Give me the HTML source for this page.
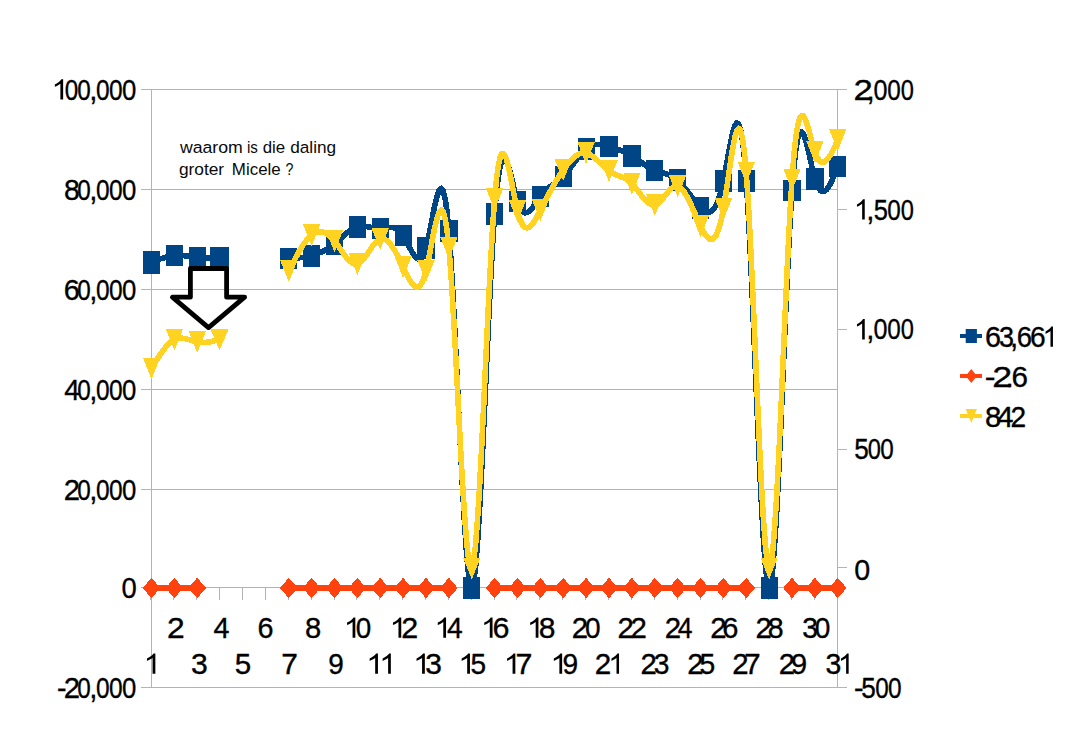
<!DOCTYPE html>
<html><head><meta charset="utf-8"><title>chart</title>
<style>
html,body{margin:0;padding:0;background:#fff;}
svg{display:block;font-family:"Liberation Sans",sans-serif;}
.note{font-size:17.2px;fill:#0a0a0a;}
</style></head><body>
<svg width="1078" height="756" viewBox="0 0 1078 756">
<rect width="1078" height="756" fill="#fff"/>
<g stroke="#b3b3b3" stroke-width="1" fill="none" shape-rendering="crispEdges">
<line x1="141" y1="89.5" x2="838" y2="89.5"/>
<line x1="141" y1="189.5" x2="838" y2="189.5"/>
<line x1="141" y1="289.5" x2="838" y2="289.5"/>
<line x1="141" y1="389.5" x2="838" y2="389.5"/>
<line x1="141" y1="489.5" x2="838" y2="489.5"/>
<line x1="141" y1="587.5" x2="838" y2="587.5"/>
<line x1="141" y1="687.5" x2="838" y2="687.5"/>
<line x1="151.5" y1="89" x2="151.5" y2="688"/>
<line x1="837.5" y1="89" x2="837.5" y2="688"/>
<line x1="837" y1="89.5" x2="847" y2="89.5"/>
<line x1="837" y1="209.5" x2="847" y2="209.5"/>
<line x1="837" y1="329.5" x2="847" y2="329.5"/>
<line x1="837" y1="449.5" x2="847" y2="449.5"/>
<line x1="837" y1="567.5" x2="847" y2="567.5"/>
<line x1="837" y1="687.5" x2="847" y2="687.5"/>
<line x1="150.5" y1="588" x2="150.5" y2="600"/>
<line x1="173.5" y1="588" x2="173.5" y2="600"/>
<line x1="196.5" y1="588" x2="196.5" y2="600"/>
<line x1="219.5" y1="588" x2="219.5" y2="600"/>
<line x1="242.5" y1="588" x2="242.5" y2="600"/>
<line x1="265.5" y1="588" x2="265.5" y2="600"/>
<line x1="288.5" y1="588" x2="288.5" y2="600"/>
<line x1="311.5" y1="588" x2="311.5" y2="600"/>
<line x1="334.5" y1="588" x2="334.5" y2="600"/>
<line x1="356.5" y1="588" x2="356.5" y2="600"/>
<line x1="379.5" y1="588" x2="379.5" y2="600"/>
<line x1="402.5" y1="588" x2="402.5" y2="600"/>
<line x1="425.5" y1="588" x2="425.5" y2="600"/>
<line x1="448.5" y1="588" x2="448.5" y2="600"/>
<line x1="471.5" y1="588" x2="471.5" y2="600"/>
<line x1="494.5" y1="588" x2="494.5" y2="600"/>
<line x1="516.5" y1="588" x2="516.5" y2="600"/>
<line x1="539.5" y1="588" x2="539.5" y2="600"/>
<line x1="562.5" y1="588" x2="562.5" y2="600"/>
<line x1="585.5" y1="588" x2="585.5" y2="600"/>
<line x1="608.5" y1="588" x2="608.5" y2="600"/>
<line x1="631.5" y1="588" x2="631.5" y2="600"/>
<line x1="654.5" y1="588" x2="654.5" y2="600"/>
<line x1="677.5" y1="588" x2="677.5" y2="600"/>
<line x1="700.5" y1="588" x2="700.5" y2="600"/>
<line x1="722.5" y1="588" x2="722.5" y2="600"/>
<line x1="745.5" y1="588" x2="745.5" y2="600"/>
<line x1="768.5" y1="588" x2="768.5" y2="600"/>
<line x1="791.5" y1="588" x2="791.5" y2="600"/>
<line x1="814.5" y1="588" x2="814.5" y2="600"/>
<line x1="837.5" y1="588" x2="837.5" y2="600"/>
</g>
<path transform="translate(51.42,99.6) scale(0.01537,0.01378)" d="M763,0 L583,0 L583,-1147 Q518,-1085 412.5,-1023 Q307,-961 223,-930 L223,-1104 Q374,-1175 487,-1276 Q600,-1377 647,-1472 L763,-1472 Z" fill="#000"/>
<text transform="translate(64.70,99.6) scale(0.823,1)" font-size="29.5" fill="#000" stroke="#000" stroke-width="0.35">0</text>
<text transform="translate(77.30,99.6) scale(0.823,1)" font-size="29.5" fill="#000" stroke="#000" stroke-width="0.35">0</text>
<text transform="translate(89.25,99.6) scale(1.000,1)" font-size="29.5" fill="#000" stroke="#000" stroke-width="0.35">,</text>
<text transform="translate(95.99,99.6) scale(0.830,1)" font-size="29.5" fill="#000" stroke="#000" stroke-width="0.35">0</text>
<text transform="translate(108.99,99.6) scale(0.830,1)" font-size="29.5" fill="#000" stroke="#000" stroke-width="0.35">0</text>
<text transform="translate(121.94,99.6) scale(0.872,1)" font-size="29.5" fill="#000" stroke="#000" stroke-width="0.35">0</text>
<text transform="translate(64.02,199.6) scale(0.961,1)" font-size="29.5" fill="#000" stroke="#000" stroke-width="0.35">8</text>
<text transform="translate(77.30,199.6) scale(0.823,1)" font-size="29.5" fill="#000" stroke="#000" stroke-width="0.35">0</text>
<text transform="translate(89.25,199.6) scale(1.000,1)" font-size="29.5" fill="#000" stroke="#000" stroke-width="0.35">,</text>
<text transform="translate(95.99,199.6) scale(0.830,1)" font-size="29.5" fill="#000" stroke="#000" stroke-width="0.35">0</text>
<text transform="translate(108.99,199.6) scale(0.830,1)" font-size="29.5" fill="#000" stroke="#000" stroke-width="0.35">0</text>
<text transform="translate(121.94,199.6) scale(0.872,1)" font-size="29.5" fill="#000" stroke="#000" stroke-width="0.35">0</text>
<text transform="translate(63.79,299.6) scale(0.977,1)" font-size="29.5" fill="#000" stroke="#000" stroke-width="0.35">6</text>
<text transform="translate(77.30,299.6) scale(0.823,1)" font-size="29.5" fill="#000" stroke="#000" stroke-width="0.35">0</text>
<text transform="translate(89.25,299.6) scale(1.000,1)" font-size="29.5" fill="#000" stroke="#000" stroke-width="0.35">,</text>
<text transform="translate(95.99,299.6) scale(0.830,1)" font-size="29.5" fill="#000" stroke="#000" stroke-width="0.35">0</text>
<text transform="translate(108.99,299.6) scale(0.830,1)" font-size="29.5" fill="#000" stroke="#000" stroke-width="0.35">0</text>
<text transform="translate(121.94,299.6) scale(0.872,1)" font-size="29.5" fill="#000" stroke="#000" stroke-width="0.35">0</text>
<text transform="translate(64.21,399.6) scale(0.949,1)" font-size="29.5" fill="#000" stroke="#000" stroke-width="0.35">4</text>
<text transform="translate(77.30,399.6) scale(0.823,1)" font-size="29.5" fill="#000" stroke="#000" stroke-width="0.35">0</text>
<text transform="translate(89.25,399.6) scale(1.000,1)" font-size="29.5" fill="#000" stroke="#000" stroke-width="0.35">,</text>
<text transform="translate(95.99,399.6) scale(0.830,1)" font-size="29.5" fill="#000" stroke="#000" stroke-width="0.35">0</text>
<text transform="translate(108.99,399.6) scale(0.830,1)" font-size="29.5" fill="#000" stroke="#000" stroke-width="0.35">0</text>
<text transform="translate(121.94,399.6) scale(0.872,1)" font-size="29.5" fill="#000" stroke="#000" stroke-width="0.35">0</text>
<text transform="translate(63.78,499.5) scale(0.990,1)" font-size="29.5" fill="#000" stroke="#000" stroke-width="0.35">2</text>
<text transform="translate(77.30,499.5) scale(0.823,1)" font-size="29.5" fill="#000" stroke="#000" stroke-width="0.35">0</text>
<text transform="translate(89.25,499.5) scale(1.000,1)" font-size="29.5" fill="#000" stroke="#000" stroke-width="0.35">,</text>
<text transform="translate(95.99,499.5) scale(0.830,1)" font-size="29.5" fill="#000" stroke="#000" stroke-width="0.35">0</text>
<text transform="translate(108.99,499.5) scale(0.830,1)" font-size="29.5" fill="#000" stroke="#000" stroke-width="0.35">0</text>
<text transform="translate(121.94,499.5) scale(0.872,1)" font-size="29.5" fill="#000" stroke="#000" stroke-width="0.35">0</text>
<text transform="translate(121.48,597.7) scale(0.929,1)" font-size="29.5" fill="#000" stroke="#000" stroke-width="0.35">0</text>
<text transform="translate(56.88,697.6) scale(0.972,1)" font-size="29.5" fill="#000" stroke="#000" stroke-width="0.35">-</text>
<text transform="translate(63.78,697.6) scale(0.990,1)" font-size="29.5" fill="#000" stroke="#000" stroke-width="0.35">2</text>
<text transform="translate(77.30,697.6) scale(0.823,1)" font-size="29.5" fill="#000" stroke="#000" stroke-width="0.35">0</text>
<text transform="translate(89.25,697.6) scale(1.000,1)" font-size="29.5" fill="#000" stroke="#000" stroke-width="0.35">,</text>
<text transform="translate(95.99,697.6) scale(0.830,1)" font-size="29.5" fill="#000" stroke="#000" stroke-width="0.35">0</text>
<text transform="translate(108.99,697.6) scale(0.830,1)" font-size="29.5" fill="#000" stroke="#000" stroke-width="0.35">0</text>
<text transform="translate(121.94,697.6) scale(0.872,1)" font-size="29.5" fill="#000" stroke="#000" stroke-width="0.35">0</text>
<text transform="translate(853.51,99.6) scale(1.176,1)" font-size="29.5" fill="#000" stroke="#000" stroke-width="0.35">2</text>
<text transform="translate(866.55,99.6) scale(1.000,1)" font-size="29.5" fill="#000" stroke="#000" stroke-width="0.35">,</text>
<text transform="translate(873.47,99.6) scale(0.851,1)" font-size="29.5" fill="#000" stroke="#000" stroke-width="0.35">0</text>
<text transform="translate(887.30,99.6) scale(0.823,1)" font-size="29.5" fill="#000" stroke="#000" stroke-width="0.35">0</text>
<text transform="translate(900.63,99.6) scale(0.801,1)" font-size="29.5" fill="#000" stroke="#000" stroke-width="0.35">0</text>
<path transform="translate(853.73,219.6) scale(0.01444,0.01378)" d="M763,0 L583,0 L583,-1147 Q518,-1085 412.5,-1023 Q307,-961 223,-930 L223,-1104 Q374,-1175 487,-1276 Q600,-1377 647,-1472 L763,-1472 Z" fill="#000"/>
<text transform="translate(866.35,219.6) scale(1.000,1)" font-size="29.5" fill="#000" stroke="#000" stroke-width="0.35">,</text>
<text transform="translate(873.83,219.6) scale(0.865,1)" font-size="29.5" fill="#000" stroke="#000" stroke-width="0.35">5</text>
<text transform="translate(887.30,219.6) scale(0.823,1)" font-size="29.5" fill="#000" stroke="#000" stroke-width="0.35">0</text>
<text transform="translate(900.63,219.6) scale(0.801,1)" font-size="29.5" fill="#000" stroke="#000" stroke-width="0.35">0</text>
<path transform="translate(853.73,339.4) scale(0.01444,0.01378)" d="M763,0 L583,0 L583,-1147 Q518,-1085 412.5,-1023 Q307,-961 223,-930 L223,-1104 Q374,-1175 487,-1276 Q600,-1377 647,-1472 L763,-1472 Z" fill="#000"/>
<text transform="translate(866.35,339.4) scale(1.000,1)" font-size="29.5" fill="#000" stroke="#000" stroke-width="0.35">,</text>
<text transform="translate(873.47,339.4) scale(0.851,1)" font-size="29.5" fill="#000" stroke="#000" stroke-width="0.35">0</text>
<text transform="translate(887.30,339.4) scale(0.823,1)" font-size="29.5" fill="#000" stroke="#000" stroke-width="0.35">0</text>
<text transform="translate(900.63,339.4) scale(0.801,1)" font-size="29.5" fill="#000" stroke="#000" stroke-width="0.35">0</text>
<text transform="translate(854.20,459.4) scale(0.887,1)" font-size="29.5" fill="#000" stroke="#000" stroke-width="0.35">5</text>
<text transform="translate(867.73,459.4) scale(0.801,1)" font-size="29.5" fill="#000" stroke="#000" stroke-width="0.35">0</text>
<text transform="translate(880.20,459.4) scale(0.823,1)" font-size="29.5" fill="#000" stroke="#000" stroke-width="0.35">0</text>
<text transform="translate(854.13,579.7) scale(0.972,1)" font-size="29.5" fill="#000" stroke="#000" stroke-width="0.35">0</text>
<text transform="translate(853.98,697.6) scale(0.972,1)" font-size="29.5" fill="#000" stroke="#000" stroke-width="0.35">-</text>
<text transform="translate(861.30,697.6) scale(0.887,1)" font-size="29.5" fill="#000" stroke="#000" stroke-width="0.35">5</text>
<text transform="translate(875.20,697.6) scale(0.823,1)" font-size="29.5" fill="#000" stroke="#000" stroke-width="0.35">0</text>
<text transform="translate(888.09,697.6) scale(0.830,1)" font-size="29.5" fill="#000" stroke="#000" stroke-width="0.35">0</text>
<path transform="translate(143.48,673.7) scale(0.01556,0.01378)" d="M763,0 L583,0 L583,-1147 Q518,-1085 412.5,-1023 Q307,-961 223,-930 L223,-1104 Q374,-1175 487,-1276 Q600,-1377 647,-1472 L763,-1472 Z" fill="#000"/>
<text transform="translate(167.05,637.8) scale(1.079,1)" font-size="29.5" fill="#000" stroke="#000" stroke-width="0.35">2</text>
<text transform="translate(190.90,673.7) scale(1.022,1)" font-size="29.5" fill="#000" stroke="#000" stroke-width="0.35">3</text>
<text transform="translate(213.59,637.8) scale(0.975,1)" font-size="29.5" fill="#000" stroke="#000" stroke-width="0.35">4</text>
<text transform="translate(234.77,673.7) scale(1.001,1)" font-size="29.5" fill="#000" stroke="#000" stroke-width="0.35">5</text>
<text transform="translate(257.49,637.8) scale(0.977,1)" font-size="29.5" fill="#000" stroke="#000" stroke-width="0.35">6</text>
<text transform="translate(281.32,673.7) scale(1.014,1)" font-size="29.5" fill="#000" stroke="#000" stroke-width="0.35">7</text>
<text transform="translate(304.88,637.8) scale(0.990,1)" font-size="29.5" fill="#000" stroke="#000" stroke-width="0.35">8</text>
<text transform="translate(328.24,673.7) scale(0.947,1)" font-size="29.5" fill="#000" stroke="#000" stroke-width="0.35">9</text>
<path transform="translate(343.62,637.8) scale(0.01537,0.01378)" d="M763,0 L583,0 L583,-1147 Q518,-1085 412.5,-1023 Q307,-961 223,-930 L223,-1104 Q374,-1175 487,-1276 Q600,-1377 647,-1472 L763,-1472 Z" fill="#000"/>
<text transform="translate(355.86,637.8) scale(0.943,1)" font-size="29.5" fill="#000" stroke="#000" stroke-width="0.35">0</text>
<path transform="translate(366.22,673.7) scale(0.01537,0.01378)" d="M763,0 L583,0 L583,-1147 Q518,-1085 412.5,-1023 Q307,-961 223,-930 L223,-1104 Q374,-1175 487,-1276 Q600,-1377 647,-1472 L763,-1472 Z" fill="#000"/>
<path transform="translate(379.26,673.7) scale(0.01519,0.01378)" d="M763,0 L583,0 L583,-1147 Q518,-1085 412.5,-1023 Q307,-961 223,-930 L223,-1104 Q374,-1175 487,-1276 Q600,-1377 647,-1472 L763,-1472 Z" fill="#000"/>
<path transform="translate(389.52,637.8) scale(0.01537,0.01378)" d="M763,0 L583,0 L583,-1147 Q518,-1085 412.5,-1023 Q307,-961 223,-930 L223,-1104 Q374,-1175 487,-1276 Q600,-1377 647,-1472 L763,-1472 Z" fill="#000"/>
<text transform="translate(401.32,637.8) scale(1.034,1)" font-size="29.5" fill="#000" stroke="#000" stroke-width="0.35">2</text>
<path transform="translate(413.12,673.7) scale(0.01537,0.01378)" d="M763,0 L583,0 L583,-1147 Q518,-1085 412.5,-1023 Q307,-961 223,-930 L223,-1104 Q374,-1175 487,-1276 Q600,-1377 647,-1472 L763,-1472 Z" fill="#000"/>
<text transform="translate(425.31,673.7) scale(1.015,1)" font-size="29.5" fill="#000" stroke="#000" stroke-width="0.35">3</text>
<path transform="translate(434.32,637.8) scale(0.01537,0.01378)" d="M763,0 L583,0 L583,-1147 Q518,-1085 412.5,-1023 Q307,-961 223,-930 L223,-1104 Q374,-1175 487,-1276 Q600,-1377 647,-1472 L763,-1472 Z" fill="#000"/>
<text transform="translate(447.00,637.8) scale(0.955,1)" font-size="29.5" fill="#000" stroke="#000" stroke-width="0.35">4</text>
<path transform="translate(458.22,673.7) scale(0.01537,0.01378)" d="M763,0 L583,0 L583,-1147 Q518,-1085 412.5,-1023 Q307,-961 223,-930 L223,-1104 Q374,-1175 487,-1276 Q600,-1377 647,-1472 L763,-1472 Z" fill="#000"/>
<text transform="translate(470.43,673.7) scale(0.951,1)" font-size="29.5" fill="#000" stroke="#000" stroke-width="0.35">5</text>
<path transform="translate(480.82,637.8) scale(0.01537,0.01378)" d="M763,0 L583,0 L583,-1147 Q518,-1085 412.5,-1023 Q307,-961 223,-930 L223,-1104 Q374,-1175 487,-1276 Q600,-1377 647,-1472 L763,-1472 Z" fill="#000"/>
<text transform="translate(492.60,637.8) scale(1.036,1)" font-size="29.5" fill="#000" stroke="#000" stroke-width="0.35">6</text>
<path transform="translate(503.62,673.7) scale(0.01537,0.01378)" d="M763,0 L583,0 L583,-1147 Q518,-1085 412.5,-1023 Q307,-961 223,-930 L223,-1104 Q374,-1175 487,-1276 Q600,-1377 647,-1472 L763,-1472 Z" fill="#000"/>
<text transform="translate(515.39,673.7) scale(1.029,1)" font-size="29.5" fill="#000" stroke="#000" stroke-width="0.35">7</text>
<path transform="translate(526.72,637.8) scale(0.01537,0.01378)" d="M763,0 L583,0 L583,-1147 Q518,-1085 412.5,-1023 Q307,-961 223,-930 L223,-1104 Q374,-1175 487,-1276 Q600,-1377 647,-1472 L763,-1472 Z" fill="#000"/>
<text transform="translate(538.74,637.8) scale(1.019,1)" font-size="29.5" fill="#000" stroke="#000" stroke-width="0.35">8</text>
<path transform="translate(550.42,673.7) scale(0.01537,0.01378)" d="M763,0 L583,0 L583,-1147 Q518,-1085 412.5,-1023 Q307,-961 223,-930 L223,-1104 Q374,-1175 487,-1276 Q600,-1377 647,-1472 L763,-1472 Z" fill="#000"/>
<text transform="translate(562.43,673.7) scale(0.954,1)" font-size="29.5" fill="#000" stroke="#000" stroke-width="0.35">9</text>
<text transform="translate(571.77,637.8) scale(0.997,1)" font-size="29.5" fill="#000" stroke="#000" stroke-width="0.35">2</text>
<text transform="translate(584.96,637.8) scale(0.950,1)" font-size="29.5" fill="#000" stroke="#000" stroke-width="0.35">0</text>
<text transform="translate(594.66,673.7) scale(1.005,1)" font-size="29.5" fill="#000" stroke="#000" stroke-width="0.35">2</text>
<path transform="translate(608.31,673.7) scale(0.01407,0.01378)" d="M763,0 L583,0 L583,-1147 Q518,-1085 412.5,-1023 Q307,-961 223,-930 L223,-1104 Q374,-1175 487,-1276 Q600,-1377 647,-1472 L763,-1472 Z" fill="#000"/>
<text transform="translate(617.57,637.8) scale(0.997,1)" font-size="29.5" fill="#000" stroke="#000" stroke-width="0.35">2</text>
<text transform="translate(630.47,637.8) scale(0.997,1)" font-size="29.5" fill="#000" stroke="#000" stroke-width="0.35">2</text>
<text transform="translate(640.57,673.7) scale(0.997,1)" font-size="29.5" fill="#000" stroke="#000" stroke-width="0.35">2</text>
<text transform="translate(653.77,673.7) scale(0.958,1)" font-size="29.5" fill="#000" stroke="#000" stroke-width="0.35">3</text>
<text transform="translate(664.77,637.8) scale(0.997,1)" font-size="29.5" fill="#000" stroke="#000" stroke-width="0.35">2</text>
<text transform="translate(677.64,637.8) scale(0.901,1)" font-size="29.5" fill="#000" stroke="#000" stroke-width="0.35">4</text>
<text transform="translate(687.27,673.7) scale(0.997,1)" font-size="29.5" fill="#000" stroke="#000" stroke-width="0.35">2</text>
<text transform="translate(699.62,673.7) scale(0.958,1)" font-size="29.5" fill="#000" stroke="#000" stroke-width="0.35">5</text>
<text transform="translate(710.37,637.8) scale(0.997,1)" font-size="29.5" fill="#000" stroke="#000" stroke-width="0.35">2</text>
<text transform="translate(722.18,637.8) scale(0.984,1)" font-size="29.5" fill="#000" stroke="#000" stroke-width="0.35">6</text>
<text transform="translate(732.17,673.7) scale(0.997,1)" font-size="29.5" fill="#000" stroke="#000" stroke-width="0.35">2</text>
<text transform="translate(744.14,673.7) scale(0.999,1)" font-size="29.5" fill="#000" stroke="#000" stroke-width="0.35">7</text>
<text transform="translate(755.57,637.8) scale(0.997,1)" font-size="29.5" fill="#000" stroke="#000" stroke-width="0.35">2</text>
<text transform="translate(767.71,637.8) scale(0.968,1)" font-size="29.5" fill="#000" stroke="#000" stroke-width="0.35">8</text>
<text transform="translate(778.87,673.7) scale(0.997,1)" font-size="29.5" fill="#000" stroke="#000" stroke-width="0.35">2</text>
<text transform="translate(790.99,673.7) scale(0.983,1)" font-size="29.5" fill="#000" stroke="#000" stroke-width="0.35">9</text>
<text transform="translate(802.37,637.8) scale(0.958,1)" font-size="29.5" fill="#000" stroke="#000" stroke-width="0.35">3</text>
<text transform="translate(814.66,637.8) scale(0.950,1)" font-size="29.5" fill="#000" stroke="#000" stroke-width="0.35">0</text>
<text transform="translate(825.57,673.7) scale(0.965,1)" font-size="29.5" fill="#000" stroke="#000" stroke-width="0.35">3</text>
<path transform="translate(837.91,673.7) scale(0.01407,0.01378)" d="M763,0 L583,0 L583,-1147 Q518,-1085 412.5,-1023 Q307,-961 223,-930 L223,-1104 Q374,-1175 487,-1276 Q600,-1377 647,-1472 L763,-1472 Z" fill="#000"/>
<text class="note" transform="translate(179.90,152.5) scale(1.028,1)">waarom</text>
<text class="note" transform="translate(246.92,152.5) scale(0.882,1)">is</text>
<text class="note" transform="translate(262.72,152.5) scale(0.981,1)">die</text>
<text class="note" transform="translate(290.20,152.5) scale(1.000,1)">daling</text>
<text class="note" transform="translate(178.89,175.4) scale(1.007,1)">groter</text>
<text class="note" transform="translate(231.81,175.4) scale(0.985,1)">Micele</text>
<text class="note" transform="translate(285.38,175.4) scale(0.825,1)">?</text>
<g shape-rendering="crispEdges">
<path d="M151.5,262.5 L153.4,261.7 L155.3,260.9 L157.2,260.2 L159.1,259.4 L161.0,258.7 L162.9,258.1 L164.8,257.5 L166.8,256.9 L168.7,256.4 L170.6,256.0 L172.5,255.7 L174.4,255.5 L176.3,255.4 L178.2,255.4 L180.1,255.4 L182.0,255.5 L183.9,255.7 L185.8,255.9 L187.7,256.2 L189.6,256.4 L191.5,256.7 L193.4,257.0 L195.3,257.2 L197.2,257.4 L199.2,257.6 L201.1,257.7 L203.0,257.8 L204.9,257.8 L206.8,257.8 L208.7,257.8 L210.6,257.8 L212.5,257.7 L214.4,257.7 L216.3,257.6 L218.2,257.5 L220.1,257.4" fill="none" stroke="#004586" stroke-width="5.6" stroke-linejoin="round" stroke-linecap="butt"/>
<path d="M288.8,258.4 L290.7,258.3 L292.6,258.2 L294.5,258.1 L296.4,258.0 L298.3,257.9 L300.2,257.7 L302.1,257.5 L304.0,257.2 L305.9,256.9 L307.8,256.6 L309.7,256.2 L311.6,255.7 L313.5,255.2 L315.4,254.5 L317.3,253.8 L319.2,253.0 L321.2,252.2 L323.1,251.2 L325.0,250.2 L326.9,249.1 L328.8,247.9 L330.7,246.6 L332.6,245.2 L334.5,243.7 L336.4,242.1 L338.3,240.5 L340.2,238.8 L342.1,237.1 L344.0,235.4 L345.9,233.8 L347.8,232.2 L349.8,230.8 L351.7,229.5 L353.6,228.4 L355.5,227.5 L357.4,226.8 L359.3,226.4 L361.2,226.2 L363.1,226.2 L365.0,226.4 L366.9,226.6 L368.8,227.0 L370.7,227.4 L372.6,227.8 L374.5,228.1 L376.4,228.4 L378.3,228.6 L380.2,228.6 L382.2,228.5 L384.1,228.2 L386.0,227.9 L387.9,227.6 L389.8,227.5 L391.7,227.5 L393.6,227.7 L395.5,228.3 L397.4,229.3 L399.3,230.7 L401.2,232.7 L403.1,235.3 L405.0,238.5 L406.9,242.2 L408.8,246.0 L410.8,249.8 L412.7,253.3 L414.6,256.2 L416.5,258.3 L418.4,259.3 L420.3,259.1 L422.2,257.3 L424.1,253.7 L426.0,248.0 L427.9,240.2 L429.8,230.9 L431.7,221.0 L433.6,211.1 L435.5,202.1 L437.4,194.8 L439.3,190.0 L441.2,188.4 L443.2,191.0 L445.1,198.4 L447.0,211.4 L448.9,231.0 L450.8,257.4 L452.7,289.6 L454.6,325.9 L456.5,364.9 L458.4,405.0 L460.3,444.7 L462.2,482.5 L464.1,516.7 L466.0,545.9 L467.9,568.6 L469.8,583.1 L471.8,588.0 L473.7,582.2 L475.6,566.8 L477.5,543.2 L479.4,512.9 L481.3,477.6 L483.2,438.6 L485.1,397.6 L487.0,356.0 L488.9,315.3 L490.8,277.0 L492.7,242.8 L494.6,214.0 L496.5,191.8 L498.4,176.0 L500.3,165.6 L502.2,160.1 L504.2,158.6 L506.1,160.5 L508.0,165.1 L509.9,171.5 L511.8,179.0 L513.7,187.0 L515.6,194.7 L517.5,201.4 L519.4,206.5 L521.3,209.9 L523.2,212.0 L525.1,212.8 L527.0,212.6 L528.9,211.5 L530.8,209.7 L532.8,207.4 L534.7,204.7 L536.6,201.8 L538.5,199.0 L540.4,196.3 L542.3,193.9 L544.2,191.9 L546.1,190.0 L548.0,188.4 L549.9,186.9 L551.8,185.6 L553.7,184.3 L555.6,182.9 L557.5,181.6 L559.4,180.1 L561.3,178.4 L563.2,176.6 L565.2,174.5 L567.1,172.2 L569.0,169.8 L570.9,167.3 L572.8,164.6 L574.7,162.0 L576.6,159.4 L578.5,156.9 L580.4,154.6 L582.3,152.4 L584.2,150.4 L586.1,148.7 L588.0,147.3 L589.9,146.2 L591.8,145.4 L593.8,144.9 L595.7,144.6 L597.6,144.4 L599.5,144.5 L601.4,144.7 L603.3,145.0 L605.2,145.4 L607.1,145.9 L609.0,146.4 L610.9,147.0 L612.8,147.6 L614.7,148.2 L616.6,148.8 L618.5,149.5 L620.4,150.3 L622.3,151.1 L624.2,151.9 L626.2,152.9 L628.1,153.8 L630.0,154.9 L631.9,156.0 L633.8,157.2 L635.7,158.4 L637.6,159.7 L639.5,161.1 L641.4,162.4 L643.3,163.7 L645.2,165.0 L647.1,166.2 L649.0,167.4 L650.9,168.5 L652.8,169.4 L654.8,170.3 L656.7,171.0 L658.6,171.7 L660.5,172.2 L662.4,172.7 L664.3,173.3 L666.2,173.8 L668.1,174.5 L670.0,175.2 L671.9,176.1 L673.8,177.2 L675.7,178.5 L677.6,180.0 L679.5,181.8 L681.4,183.8 L683.3,186.1 L685.2,188.5 L687.2,191.0 L689.1,193.5 L691.0,196.1 L692.9,198.7 L694.8,201.2 L696.7,203.6 L698.6,205.8 L700.5,207.8 L702.4,209.6 L704.3,211.0 L706.2,211.9 L708.1,212.3 L710.0,212.0 L711.9,210.8 L713.8,208.8 L715.8,205.7 L717.7,201.5 L719.6,196.1 L721.5,189.3 L723.4,181.0 L725.3,171.3 L727.2,160.8 L729.1,150.2 L731.0,140.4 L732.9,132.1 L734.8,126.1 L736.7,123.1 L738.6,124.0 L740.5,129.4 L742.4,140.2 L744.3,157.1 L746.2,181.0 L748.2,212.1 L750.1,249.3 L752.0,290.8 L753.9,335.0 L755.8,380.3 L757.7,425.0 L759.6,467.5 L761.5,506.0 L763.4,539.0 L765.3,564.8 L767.2,581.6 L769.1,588.0 L771.0,582.7 L772.9,566.9 L774.8,542.2 L776.8,510.2 L778.7,472.6 L780.6,431.1 L782.5,387.2 L784.4,342.6 L786.3,299.0 L788.2,258.1 L790.1,221.3 L792.0,190.5 L793.9,166.8 L795.8,149.9 L797.7,138.9 L799.6,133.1 L801.5,131.7 L803.4,133.9 L805.3,139.0 L807.2,146.1 L809.2,154.4 L811.1,163.2 L813.0,171.6 L814.9,179.0 L816.8,184.6 L818.7,188.5 L820.6,190.8 L822.5,191.7 L824.4,191.3 L826.3,189.9 L828.2,187.4 L830.1,184.2 L832.0,180.4 L833.9,176.0 L835.8,171.4 L837.8,166.6" fill="none" stroke="#004586" stroke-width="5.6" stroke-linejoin="round" stroke-linecap="butt"/>
<rect x="142.9" y="251.0" width="17.2" height="23" fill="#004586"/>
<rect x="165.8" y="244.7" width="17.2" height="21.6" fill="#004586"/>
<rect x="188.7" y="246.6" width="17.2" height="21.6" fill="#004586"/>
<rect x="210.0" y="246.6" width="18.8" height="21.6" fill="#004586"/>
<rect x="280.1" y="247.6" width="17.2" height="21.6" fill="#004586"/>
<rect x="303.0" y="244.9" width="17.2" height="21.6" fill="#004586"/>
<rect x="325.9" y="232.9" width="17.2" height="21.6" fill="#004586"/>
<rect x="348.8" y="216.0" width="17.2" height="21.6" fill="#004586"/>
<rect x="371.6" y="217.8" width="17.2" height="21.6" fill="#004586"/>
<rect x="394.5" y="224.5" width="17.2" height="21.6" fill="#004586"/>
<rect x="417.4" y="237.2" width="17.2" height="21.6" fill="#004586"/>
<rect x="440.3" y="220.2" width="17.2" height="21.6" fill="#004586"/>
<rect x="463.1" y="577.2" width="17.2" height="21.6" fill="#004586"/>
<rect x="486.0" y="203.2" width="17.2" height="21.6" fill="#004586"/>
<rect x="508.9" y="190.6" width="17.2" height="21.6" fill="#004586"/>
<rect x="531.8" y="185.5" width="17.2" height="21.6" fill="#004586"/>
<rect x="554.6" y="165.8" width="17.2" height="21.6" fill="#004586"/>
<rect x="577.5" y="137.9" width="17.2" height="21.6" fill="#004586"/>
<rect x="600.4" y="135.6" width="17.2" height="21.6" fill="#004586"/>
<rect x="623.3" y="145.2" width="17.2" height="21.6" fill="#004586"/>
<rect x="646.1" y="159.5" width="17.2" height="21.6" fill="#004586"/>
<rect x="669.0" y="169.2" width="17.2" height="21.6" fill="#004586"/>
<rect x="691.9" y="197.0" width="17.2" height="21.6" fill="#004586"/>
<rect x="714.8" y="170.2" width="17.2" height="21.6" fill="#004586"/>
<rect x="737.6" y="170.2" width="17.2" height="21.6" fill="#004586"/>
<rect x="760.5" y="577.2" width="17.2" height="21.6" fill="#004586"/>
<rect x="783.4" y="179.7" width="17.2" height="21.6" fill="#004586"/>
<rect x="806.3" y="168.2" width="17.2" height="21.6" fill="#004586"/>
<rect x="829.1" y="155.8" width="17.2" height="21.6" fill="#004586"/>
<line x1="151.5" y1="588" x2="197.25" y2="588" stroke="#ff420e" stroke-width="5.6"/>
<path d="M142.7,588 L151.5,577.7 L160.3,588 L151.5,598.3 Z" fill="#ff420e"/>
<path d="M165.6,588 L174.4,577.7 L183.2,588 L174.4,598.3 Z" fill="#ff420e"/>
<path d="M188.4,588 L197.2,577.7 L206.1,588 L197.2,598.3 Z" fill="#ff420e"/>
<line x1="288.75" y1="588" x2="448.875" y2="588" stroke="#ff420e" stroke-width="5.6"/>
<path d="M279.9,588 L288.8,577.7 L297.6,588 L288.8,598.3 Z" fill="#ff420e"/>
<path d="M302.8,588 L311.6,577.7 L320.4,588 L311.6,598.3 Z" fill="#ff420e"/>
<path d="M325.7,588 L334.5,577.7 L343.3,588 L334.5,598.3 Z" fill="#ff420e"/>
<path d="M348.6,588 L357.4,577.7 L366.2,588 L357.4,598.3 Z" fill="#ff420e"/>
<path d="M371.4,588 L380.2,577.7 L389.1,588 L380.2,598.3 Z" fill="#ff420e"/>
<path d="M394.3,588 L403.1,577.7 L411.9,588 L403.1,598.3 Z" fill="#ff420e"/>
<path d="M417.2,588 L426.0,577.7 L434.8,588 L426.0,598.3 Z" fill="#ff420e"/>
<path d="M440.1,588 L448.9,577.7 L457.7,588 L448.9,598.3 Z" fill="#ff420e"/>
<line x1="494.625" y1="588" x2="746.25" y2="588" stroke="#ff420e" stroke-width="5.6"/>
<path d="M485.8,588 L494.6,577.7 L503.4,588 L494.6,598.3 Z" fill="#ff420e"/>
<path d="M508.7,588 L517.5,577.7 L526.3,588 L517.5,598.3 Z" fill="#ff420e"/>
<path d="M531.6,588 L540.4,577.7 L549.2,588 L540.4,598.3 Z" fill="#ff420e"/>
<path d="M554.5,588 L563.2,577.7 L572.0,588 L563.2,598.3 Z" fill="#ff420e"/>
<path d="M577.3,588 L586.1,577.7 L594.9,588 L586.1,598.3 Z" fill="#ff420e"/>
<path d="M600.2,588 L609.0,577.7 L617.8,588 L609.0,598.3 Z" fill="#ff420e"/>
<path d="M623.1,588 L631.9,577.7 L640.7,588 L631.9,598.3 Z" fill="#ff420e"/>
<path d="M646.0,588 L654.8,577.7 L663.5,588 L654.8,598.3 Z" fill="#ff420e"/>
<path d="M668.8,588 L677.6,577.7 L686.4,588 L677.6,598.3 Z" fill="#ff420e"/>
<path d="M691.7,588 L700.5,577.7 L709.3,588 L700.5,598.3 Z" fill="#ff420e"/>
<path d="M714.6,588 L723.4,577.7 L732.2,588 L723.4,598.3 Z" fill="#ff420e"/>
<path d="M737.5,588 L746.2,577.7 L755.0,588 L746.2,598.3 Z" fill="#ff420e"/>
<line x1="792.0" y1="588" x2="837.75" y2="588" stroke="#ff420e" stroke-width="5.6"/>
<path d="M783.2,588 L792.0,577.7 L800.8,588 L792.0,598.3 Z" fill="#ff420e"/>
<path d="M806.1,588 L814.9,577.7 L823.7,588 L814.9,598.3 Z" fill="#ff420e"/>
<path d="M829.0,588 L837.8,577.7 L846.5,588 L837.8,598.3 Z" fill="#ff420e"/>
<path d="M151.5,368.2 L153.4,365.1 L155.3,362.0 L157.2,359.0 L159.1,356.1 L161.0,353.3 L162.9,350.7 L164.8,348.2 L166.8,345.9 L168.7,343.9 L170.6,342.2 L172.5,340.7 L174.4,339.6 L176.3,338.8 L178.2,338.4 L180.1,338.2 L182.0,338.2 L183.9,338.5 L185.8,338.9 L187.7,339.3 L189.6,339.9 L191.5,340.5 L193.4,341.1 L195.3,341.6 L197.2,342.0 L199.2,342.3 L201.1,342.4 L203.0,342.5 L204.9,342.4 L206.8,342.2 L208.7,342.0 L210.6,341.7 L212.5,341.3 L214.4,340.8 L216.3,340.4 L218.2,339.9 L220.1,339.4" fill="none" stroke="#ffd320" stroke-width="5.6" stroke-linejoin="round" stroke-linecap="butt"/>
<path d="M288.8,271.0 L290.7,267.3 L292.6,263.6 L294.5,259.9 L296.4,256.4 L298.3,252.9 L300.2,249.7 L302.1,246.6 L304.0,243.7 L305.9,241.1 L307.8,238.7 L309.7,236.7 L311.6,235.0 L313.5,233.7 L315.4,232.7 L317.3,232.1 L319.2,231.8 L321.2,231.8 L323.1,232.2 L325.0,232.9 L326.9,234.0 L328.8,235.3 L330.7,236.9 L332.6,238.8 L334.5,241.0 L336.4,243.4 L338.3,246.1 L340.2,248.8 L342.1,251.6 L344.0,254.3 L345.9,256.8 L347.8,259.1 L349.8,261.1 L351.7,262.6 L353.6,263.7 L355.5,264.2 L357.4,264.0 L359.3,263.1 L361.2,261.6 L363.1,259.6 L365.0,257.2 L366.9,254.5 L368.8,251.7 L370.7,248.9 L372.6,246.2 L374.5,243.8 L376.4,241.7 L378.3,240.0 L380.2,239.0 L382.2,238.7 L384.1,239.0 L386.0,239.9 L387.9,241.4 L389.8,243.5 L391.7,245.9 L393.6,248.8 L395.5,252.0 L397.4,255.4 L399.3,259.1 L401.2,263.0 L403.1,267.0 L405.0,271.0 L406.9,275.0 L408.8,278.6 L410.8,281.8 L412.7,284.4 L414.6,286.3 L416.5,287.1 L418.4,286.8 L420.3,285.2 L422.2,282.2 L424.1,277.5 L426.0,271.0 L427.9,262.7 L429.8,253.1 L431.7,243.0 L433.6,233.0 L435.5,224.0 L437.4,216.7 L439.3,211.7 L441.2,209.9 L443.2,211.8 L445.1,218.4 L447.0,230.2 L448.9,248.0 L450.8,272.2 L452.7,301.7 L454.6,335.0 L456.5,370.7 L458.4,407.3 L460.3,443.5 L462.2,477.7 L464.1,508.4 L466.0,534.4 L467.9,554.0 L469.8,565.8 L471.8,568.5 L473.7,561.0 L475.6,544.3 L477.5,520.0 L479.4,489.4 L481.3,454.1 L483.2,415.5 L485.1,375.2 L487.0,334.6 L488.9,295.2 L490.8,258.5 L492.7,225.9 L494.6,199.0 L496.5,178.8 L498.4,165.0 L500.3,156.8 L502.2,153.4 L504.2,154.2 L506.1,158.3 L508.0,165.0 L509.9,173.5 L511.8,183.1 L513.7,193.1 L515.6,202.6 L517.5,211.0 L519.4,217.6 L521.3,222.4 L523.2,225.7 L525.1,227.5 L527.0,228.0 L528.9,227.4 L530.8,225.9 L532.8,223.6 L534.7,220.7 L536.6,217.4 L538.5,213.8 L540.4,210.0 L542.3,206.3 L544.2,202.6 L546.1,198.9 L548.0,195.4 L549.9,191.9 L551.8,188.4 L553.7,185.1 L555.6,181.9 L557.5,178.7 L559.4,175.7 L561.3,172.8 L563.2,170.0 L565.2,167.3 L567.1,164.8 L569.0,162.5 L570.9,160.4 L572.8,158.5 L574.7,156.8 L576.6,155.4 L578.5,154.3 L580.4,153.4 L582.3,152.9 L584.2,152.8 L586.1,153.0 L588.0,153.6 L589.9,154.5 L591.8,155.8 L593.8,157.2 L595.7,158.8 L597.6,160.6 L599.5,162.5 L601.4,164.3 L603.3,166.2 L605.2,167.9 L607.1,169.6 L609.0,171.0 L610.9,172.2 L612.8,173.3 L614.7,174.2 L616.6,175.0 L618.5,175.7 L620.4,176.5 L622.3,177.3 L624.2,178.1 L626.2,179.2 L628.1,180.4 L630.0,181.9 L631.9,183.6 L633.8,185.6 L635.7,187.9 L637.6,190.4 L639.5,192.9 L641.4,195.4 L643.3,197.8 L645.2,200.0 L647.1,201.9 L649.0,203.5 L650.9,204.5 L652.8,205.1 L654.8,205.0 L656.7,204.2 L658.6,202.9 L660.5,201.1 L662.4,198.9 L664.3,196.6 L666.2,194.2 L668.1,191.9 L670.0,189.8 L671.9,188.0 L673.8,186.7 L675.7,186.0 L677.6,186.0 L679.5,186.8 L681.4,188.5 L683.3,190.7 L685.2,193.6 L687.2,197.0 L689.1,200.7 L691.0,204.7 L692.9,209.0 L694.8,213.3 L696.7,217.6 L698.6,221.9 L700.5,226.0 L702.4,229.8 L704.3,233.2 L706.2,236.0 L708.1,238.0 L710.0,239.2 L711.9,239.3 L713.8,238.2 L715.8,235.7 L717.7,231.7 L719.6,226.0 L721.5,218.5 L723.4,209.0 L725.3,197.5 L727.2,184.8 L729.1,171.5 L731.0,158.7 L732.9,147.1 L734.8,137.7 L736.7,131.1 L738.6,128.4 L740.5,130.3 L742.4,137.7 L744.3,151.5 L746.2,172.4 L748.2,201.0 L750.1,235.9 L752.0,275.5 L753.9,318.2 L755.8,362.2 L757.7,405.9 L759.6,447.7 L761.5,485.8 L763.4,518.6 L765.3,544.4 L767.2,561.6 L769.1,568.5 L771.0,563.9 L772.9,549.0 L774.8,525.3 L776.8,494.4 L778.7,457.9 L780.6,417.4 L782.5,374.4 L784.4,330.7 L786.3,287.8 L788.2,247.2 L790.1,210.6 L792.0,179.6 L793.9,155.4 L795.8,137.6 L797.7,125.4 L799.6,118.3 L801.5,115.4 L803.4,116.0 L805.3,119.3 L807.2,124.7 L809.2,131.4 L811.1,138.7 L813.0,145.8 L814.9,152.0 L816.8,156.7 L818.7,159.9 L820.6,161.8 L822.5,162.4 L824.4,162.0 L826.3,160.6 L828.2,158.4 L830.1,155.5 L832.0,152.0 L833.9,148.2 L835.8,144.1 L837.8,139.8" fill="none" stroke="#ffd320" stroke-width="5.6" stroke-linejoin="round" stroke-linecap="butt"/>
<path d="M142.9,357.5 H160.1 L151.5,379.3 Z" fill="#ffd320"/>
<path d="M165.8,328.9 H183.0 L174.4,350.7 Z" fill="#ffd320"/>
<path d="M188.7,331.3 H205.8 L197.2,353.1 Z" fill="#ffd320"/>
<path d="M210.2,328.7 H228.8 L219.5,350.5 Z" fill="#ffd320"/>
<path d="M280.1,260.3 H297.4 L288.8,282.1 Z" fill="#ffd320"/>
<path d="M303.0,224.3 H320.2 L311.6,246.1 Z" fill="#ffd320"/>
<path d="M325.9,230.3 H343.1 L334.5,252.1 Z" fill="#ffd320"/>
<path d="M348.8,253.3 H366.0 L357.4,275.1 Z" fill="#ffd320"/>
<path d="M371.6,228.3 H388.9 L380.2,250.1 Z" fill="#ffd320"/>
<path d="M394.5,256.3 H411.7 L403.1,278.1 Z" fill="#ffd320"/>
<path d="M417.4,260.3 H434.6 L426.0,282.1 Z" fill="#ffd320"/>
<path d="M440.3,237.3 H457.5 L448.9,259.1 Z" fill="#ffd320"/>
<path d="M463.1,557.8 H480.4 L471.8,579.6 Z" fill="#ffd320"/>
<path d="M486.0,188.3 H503.2 L494.6,210.1 Z" fill="#ffd320"/>
<path d="M508.9,200.3 H526.1 L517.5,222.1 Z" fill="#ffd320"/>
<path d="M531.8,199.3 H549.0 L540.4,221.1 Z" fill="#ffd320"/>
<path d="M554.6,159.3 H571.9 L563.2,181.1 Z" fill="#ffd320"/>
<path d="M577.5,142.3 H594.7 L586.1,164.1 Z" fill="#ffd320"/>
<path d="M600.4,160.3 H617.6 L609.0,182.1 Z" fill="#ffd320"/>
<path d="M623.3,172.9 H640.5 L631.9,194.7 Z" fill="#ffd320"/>
<path d="M646.1,194.3 H663.4 L654.8,216.1 Z" fill="#ffd320"/>
<path d="M669.0,175.3 H686.2 L677.6,197.1 Z" fill="#ffd320"/>
<path d="M691.9,215.3 H709.1 L700.5,237.1 Z" fill="#ffd320"/>
<path d="M714.8,198.3 H732.0 L723.4,220.1 Z" fill="#ffd320"/>
<path d="M737.6,161.7 H754.9 L746.2,183.5 Z" fill="#ffd320"/>
<path d="M760.5,557.8 H777.7 L769.1,579.6 Z" fill="#ffd320"/>
<path d="M783.4,168.9 H800.6 L792.0,190.7 Z" fill="#ffd320"/>
<path d="M806.3,141.3 H823.5 L814.9,163.1 Z" fill="#ffd320"/>
<path d="M829.1,129.1 H846.4 L837.8,150.9 Z" fill="#ffd320"/>
</g>
<path d="M190.4,268.5 H226.6 V297.2 H244.6 L208.5,327.6 L172.4,297.2 H190.4 Z" fill="none" stroke="#000" stroke-width="4.8" stroke-linejoin="round"/>
<line x1="960" y1="336" x2="982" y2="336" stroke="#004586" stroke-width="4.4" shape-rendering="crispEdges"/>
<rect x="965.6999999999999" y="329" width="11.2" height="14" fill="#004586"/>
<line x1="960" y1="376" x2="982" y2="376" stroke="#ff420e" stroke-width="4.4" shape-rendering="crispEdges"/>
<path d="M965.6999999999999,376 L971.3,369 L976.9,376 L971.3,383 Z" fill="#ff420e"/>
<line x1="960" y1="416" x2="982" y2="416" stroke="#ffd320" stroke-width="4.4" shape-rendering="crispEdges"/>
<path d="M965.6999999999999,409 H976.9 L971.3,423 Z" fill="#ffd320"/>
<text transform="translate(984.89,346.7) scale(0.977,1)" font-size="29.5" fill="#000" stroke="#000" stroke-width="0.35">6</text>
<text transform="translate(999.12,346.7) scale(0.915,1)" font-size="29.5" fill="#000" stroke="#000" stroke-width="0.35">3</text>
<text transform="translate(1009.95,346.7) scale(1.000,1)" font-size="29.5" fill="#000" stroke="#000" stroke-width="0.35">,</text>
<text transform="translate(1016.65,346.7) scale(0.933,1)" font-size="29.5" fill="#000" stroke="#000" stroke-width="0.35">6</text>
<text transform="translate(1030.12,346.7) scale(0.955,1)" font-size="29.5" fill="#000" stroke="#000" stroke-width="0.35">6</text>
<path transform="translate(1042.51,346.7) scale(0.01368,0.01378)" d="M763,0 L583,0 L583,-1147 Q518,-1085 412.5,-1023 Q307,-961 223,-930 L223,-1104 Q374,-1175 487,-1276 Q600,-1377 647,-1472 L763,-1472 Z" fill="#000"/>
<text transform="translate(984.71,386.7) scale(1.097,1)" font-size="29.5" fill="#000" stroke="#000" stroke-width="0.35">-</text>
<text transform="translate(992.25,386.7) scale(1.213,1)" font-size="29.5" fill="#000" stroke="#000" stroke-width="0.35">2</text>
<text transform="translate(1005.61,386.7) scale(1.000,1)" font-size="29.5" fill="#000" stroke="#000" stroke-width="0.35">.</text>
<text transform="translate(1011.44,386.7) scale(1.006,1)" font-size="29.5" fill="#000" stroke="#000" stroke-width="0.35">6</text>
<text transform="translate(985.07,426.7) scale(0.997,1)" font-size="29.5" fill="#000" stroke="#000" stroke-width="0.35">8</text>
<text transform="translate(996.86,426.7) scale(1.023,1)" font-size="29.5" fill="#000" stroke="#000" stroke-width="0.35">4</text>
<text transform="translate(1010.44,426.7) scale(0.952,1)" font-size="29.5" fill="#000" stroke="#000" stroke-width="0.35">2</text>
</svg></body></html>
